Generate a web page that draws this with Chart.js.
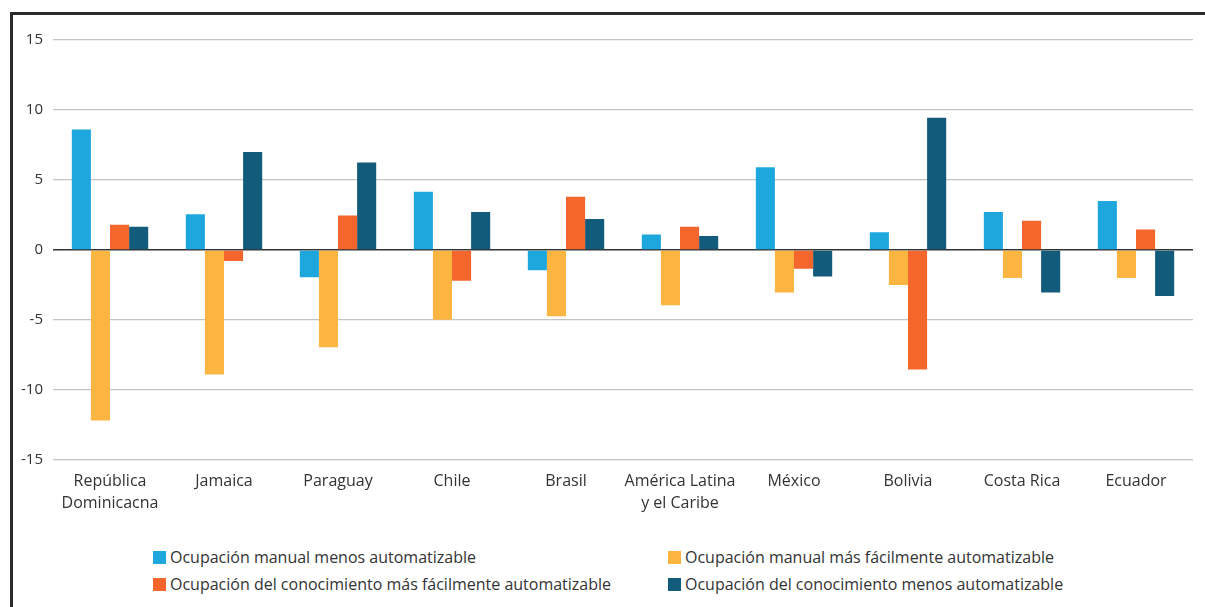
<!DOCTYPE html>
<html>
<head>
<meta charset="utf-8">
<script src="https://cdn.jsdelivr.net/npm/chart.js@4"></script>
<style>
  body { margin: 0; background: #fff; font-family: "Open Sans", sans-serif; }
  #wrap { position: relative; width: 1205px; height: 607px; overflow: hidden; }
  #frameTop { position: absolute; left: 10px; top: 12px; width: 1195px; height: 3px; background: #2b2b2b; }
  #frameLeft { position: absolute; left: 10px; top: 12px; width: 3px; height: 595px; background: #2b2b2b; }
  #chartBox { position: absolute; left: 0; top: 0; }
  .leg { position: absolute; font-size: 16px; color: #333; white-space: nowrap; line-height: 18px; }
  .leg span { display: inline-block; width: 13px; height: 13px; margin-right: 4px; vertical-align: -1px; }
</style>
</head>
<body>
<div id="wrap">
  <div id="frameTop"></div>
  <div id="frameLeft"></div>
  <div id="chartBox"><canvas id="chart" width="1205" height="530"></canvas></div>
  <div id="legend"></div>
</div>
<script>
const categories = [
  ["República", "Dominicacna"], "Jamaica", "Paraguay", "Chile", "Brasil",
  ["América Latina", "y el Caribe"], "México", "Bolivia", "Costa Rica", "Ecuador"
];

const seriesNames = [
  "Ocupación manual menos automatizable",
  "Ocupación manual más fácilmente automatizable",
  "Ocupación del conocimiento más fácilmente automatizable",
  "Ocupación del conocimiento menos automatizable"
];

const manualMenos   = [8.6, 2.55, -1.95, 4.15, -1.45, 1.1, 5.9, 1.27, 2.7, 3.5];
const manualMas     = [-12.2, -8.9, -6.95, -5.0, -4.75, -3.95, -3.05, -2.5, -2.0, -2.0];
const conocMas      = [1.8, -0.8, 2.45, -2.2, 3.8, 1.65, -1.35, -8.55, 2.08, 1.45];
const conocMenos    = [1.65, 7.0, 6.25, 2.7, 2.2, 1.0, -1.9, 9.45, -3.05, -3.3];

const yTicks = [-15, -10, -5, 0, 5, 10, 15];

const colors = ["#1ea7dd", "#fbb540", "#f4662c", "#135b7a"];
const values = [manualMenos, manualMas, conocMas, conocMenos];

const datasets = values.map((v, i) => ({
  label: seriesNames[i],
  data: v,
  backgroundColor: colors[i],
  borderWidth: 0,
  categoryPercentage: 0.67,
  barPercentage: 1.0
}));

new Chart(document.getElementById("chart"), {
  type: "bar",
  data: { labels: categories, datasets: datasets },
  options: {
    responsive: false,
    animation: false,
    layout: { padding: { top: 40, right: 12, left: 0, bottom: 13 } },
    plugins: { legend: { display: false }, tooltip: { enabled: false } },
    scales: {
      x: {
        grid: { display: false },
        border: { display: false },
        ticks: {
          color: "#333",
          font: { family: "Open Sans", size: 16, lineHeight: 1.35 },
          padding: 3,
          maxRotation: 0,
          autoSkip: false
        }
      },
      y: {
        min: -15,
        max: 15,
        afterFit: s => { s.width = 53; },
        afterBuildTicks: s => { s.ticks = yTicks.map(v => ({ value: v })); },
        border: { display: false },
        grid: {
          drawTicks: false,
          color: c => c.tick.value === 0 ? "#333" : "#c4c4c4",
          lineWidth: c => c.tick.value === 0 ? 1.5 : 1.2
        },
        ticks: {
          color: "#333",
          font: { family: "Open Sans", size: 15 },
          padding: 10
        }
      }
    }
  }
});

// legend in two columns as in the original
const legPos = [[153, 548], [668, 548], [153, 575], [668, 575]];
const legend = document.getElementById("legend");
seriesNames.forEach((name, i) => {
  const d = document.createElement("div");
  d.className = "leg";
  d.style.left = legPos[i][0] + "px";
  d.style.top = legPos[i][1] + "px";
  d.innerHTML = '<span style="background:' + colors[i] + '"></span>' + name;
  legend.appendChild(d);
});
</script>
</body>
</html>
